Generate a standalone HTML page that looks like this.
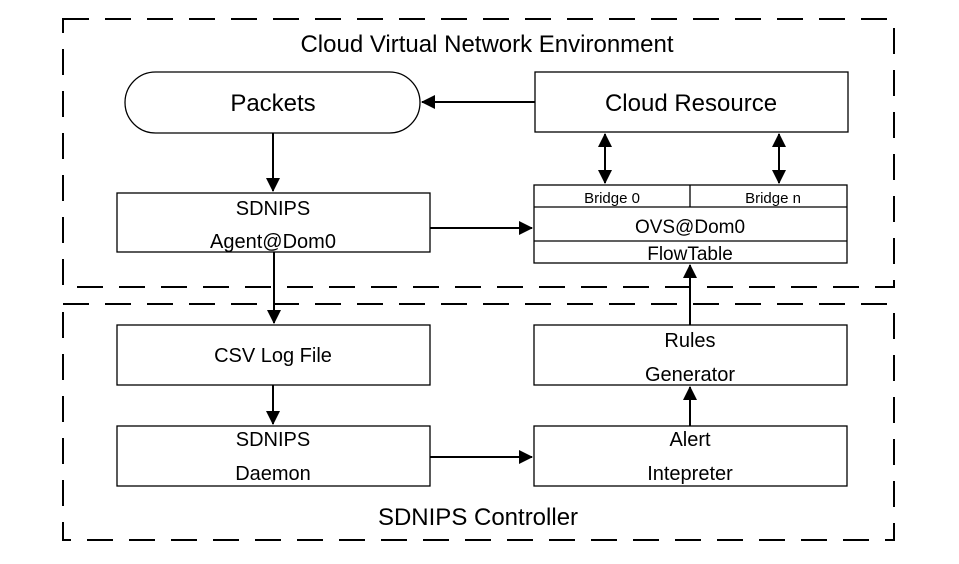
<!DOCTYPE html>
<html><head><meta charset="utf-8"><style>
html,body{margin:0;padding:0;background:#fff;}
svg{display:block;font-family:"Liberation Sans",sans-serif;}
</style></head><body>
<svg width="959" height="564" viewBox="0 0 959 564" xmlns="http://www.w3.org/2000/svg">
<defs>
<marker id="a" markerWidth="14" markerHeight="14" refX="13" refY="7" orient="auto" markerUnits="userSpaceOnUse">
<path d="M0,0 L14,7 L0,14 z" fill="#000"/></marker>
<marker id="s" markerWidth="14" markerHeight="14" refX="1" refY="7" orient="auto" markerUnits="userSpaceOnUse">
<path d="M14,0 L0,7 L14,14 z" fill="#000"/></marker>
</defs>
<g fill="none" stroke="#000" stroke-width="2" stroke-dasharray="26,16">
<rect x="63" y="19" width="831" height="268"/>
<rect x="63" y="304" width="831" height="236"/>
</g>
<g fill="#fff" stroke="#000" stroke-width="1.3">
<rect x="125" y="72" width="295" height="61" rx="30.5"/>
<rect x="535" y="72" width="313" height="60"/>
<rect x="534" y="185" width="313" height="78"/>
<line x1="534" y1="207" x2="847" y2="207"/>
<line x1="534" y1="241" x2="847" y2="241"/>
<line x1="690" y1="185" x2="690" y2="207"/>
<rect x="117" y="193" width="313" height="59"/>
<rect x="117" y="325" width="313" height="60"/>
<rect x="117" y="426" width="313" height="60"/>
<rect x="534" y="325" width="313" height="60"/>
<rect x="534" y="426" width="313" height="60"/>
</g>
<g stroke="#000" stroke-width="2" fill="none">
<line x1="535" y1="102" x2="422" y2="102" marker-end="url(#a)"/>
<line x1="273" y1="133" x2="273" y2="191" marker-end="url(#a)"/>
<line x1="430" y1="228" x2="532" y2="228" marker-end="url(#a)"/>
<line x1="274" y1="252" x2="274" y2="323" marker-end="url(#a)"/>
<line x1="605" y1="134" x2="605" y2="183" marker-start="url(#s)" marker-end="url(#a)"/>
<line x1="779" y1="134" x2="779" y2="183" marker-start="url(#s)" marker-end="url(#a)"/>
<line x1="690" y1="325" x2="690" y2="265" marker-end="url(#a)"/>
<line x1="273" y1="385" x2="273" y2="424" marker-end="url(#a)"/>
<line x1="430" y1="457" x2="532" y2="457" marker-end="url(#a)"/>
<line x1="690" y1="426" x2="690" y2="387" marker-end="url(#a)"/>
</g>
<g fill="#000" text-anchor="middle" font-size="22">
<text x="487" y="52" font-size="24">Cloud Virtual Network Environment</text>
<text x="273" y="111" font-size="24">Packets</text>
<text x="691" y="111" font-size="24">Cloud Resource</text>
<text x="612" y="203" font-size="15">Bridge 0</text>
<text x="773" y="203" font-size="15">Bridge n</text>
<text x="690" y="233" font-size="19">OVS@Dom0</text>
<text x="690" y="260" font-size="19">FlowTable</text>
<text x="273" y="215" font-size="20">SDNIPS</text>
<text x="273" y="248" font-size="20">Agent@Dom0</text>
<text x="273" y="362" font-size="20">CSV Log File</text>
<text x="273" y="446" font-size="20">SDNIPS</text>
<text x="273" y="480" font-size="20">Daemon</text>
<text x="690" y="347" font-size="20">Rules</text>
<text x="690" y="381" font-size="20">Generator</text>
<text x="690" y="446" font-size="20">Alert</text>
<text x="690" y="480" font-size="20">Intepreter</text>
<text x="478" y="525" font-size="24">SDNIPS Controller</text>
</g>
</svg>
</body></html>
